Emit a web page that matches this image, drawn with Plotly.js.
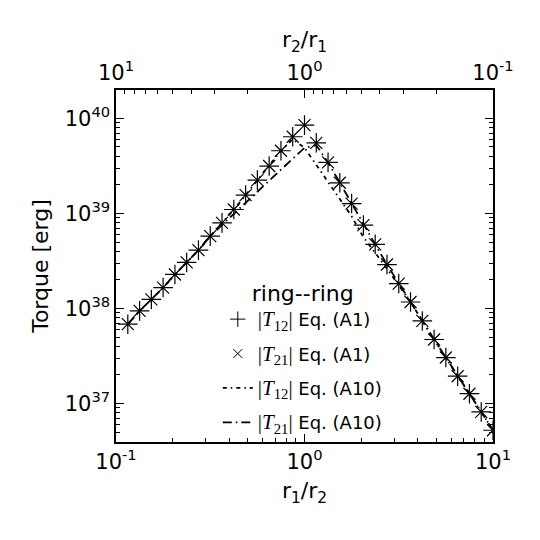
<!DOCTYPE html>
<html>
<head>
<meta charset="utf-8">
<script src="https://cdn.plot.ly/plotly-3.0.1.min.js"></script>
<style>
  html, body { margin: 0; padding: 0; background: #fff; }
  #plot { width: 540px; height: 540px; }
</style>
</head>
<body>
<div id="plot"></div>
<script>
// r1/r2 の格子
const ratio = [
    0.1155, 0.1334, 0.1540, 0.1778, 0.2054, 0.2371, 0.2738, 0.3162,
    0.3652, 0.4217, 0.4870, 0.5623, 0.6494, 0.7499, 0.8660, 1.0,
    1.1548, 1.3335, 1.5399, 1.7783, 2.0535, 2.3714, 2.7384, 3.1623,
    3.6517, 4.2170, 4.8697, 5.6234, 6.4938, 7.4989, 8.6596, 10.0
];

// Eq. (A1): |T12| と |T21| はほぼ一致
const t12A1 = [
    6.84e37, 9.44e37, 1.245e38, 1.66e38, 2.28e38, 3.05e38, 4.11e38, 5.77e38,
    7.96e38, 1.10e39, 1.56e39, 2.24e39, 3.15e39, 4.56e39, 6.40e39, 8.49e39,
    5.53e39, 3.44e39, 2.10e39, 1.27e39, 7.53e38, 4.72e38, 2.90e38, 1.83e38,
    1.17e38, 7.40e37, 4.72e37, 3.05e37, 1.94e37, 1.27e37, 8.17e36, 5.24e36
];
const t21A1 = [
    6.84e37, 9.44e37, 1.245e38, 1.66e38, 2.28e38, 3.05e38, 4.11e38, 5.77e38,
    7.96e38, 1.10e39, 1.56e39, 2.24e39, 3.15e39, 4.56e39, 6.40e39, 8.49e39,
    5.53e39, 3.44e39, 2.10e39, 1.27e39, 7.53e38, 4.72e38, 2.90e38, 1.83e38,
    1.17e38, 7.40e37, 4.72e37, 3.05e37, 1.94e37, 1.27e37, 8.17e36, 5.24e36
];

// Eq. (A10): ピーク付近で片側だけずれる
const t12A10 = [
    6.84e37, 9.44e37, 1.245e38, 1.66e38, 2.28e38, 3.05e38, 4.11e38, 5.77e38,
    7.96e38, 1.10e39, 1.56e39, 2.24e39, 3.15e39, 4.56e39, 6.03e39, 4.90e39,
    3.24e39, 2.14e39, 1.41e39, 9.33e38, 5.62e38, 3.89e38, 2.63e38, 1.76e38,
    1.17e38, 7.40e37, 4.72e37, 3.05e37, 1.94e37, 1.27e37, 8.17e36, 5.24e36
];
const t21A10 = [
    6.84e37, 9.44e37, 1.245e38, 1.66e38, 2.28e38, 3.05e38, 4.11e38, 5.77e38,
    7.59e38, 9.77e38, 1.29e39, 1.69e39, 2.21e39, 2.88e39, 3.77e39, 4.90e39,
    5.20e39, 3.44e39, 2.10e39, 1.27e39, 7.53e38, 4.72e38, 2.90e38, 1.83e38,
    1.17e38, 7.40e37, 4.72e37, 3.05e37, 1.94e37, 1.27e37, 8.17e36, 5.24e36
];

// 目盛り
const xTickVals = [0.1, 1, 10];
const xTickText = ['10<sup>-1</sup>', '10<sup>0</sup>', '10<sup>1</sup>'];
const topTickVals = [10, 1, 0.1];
const topTickText = ['10<sup>1</sup>', '10<sup>0</sup>', '10<sup>-1</sup>'];
const yTickVals = [1e37, 1e38, 1e39, 1e40];
const yTickText = ['10<sup>37</sup>', '10<sup>38</sup>', '10<sup>39</sup>', '10<sup>40</sup>'];

// 凡例ラベル（数式部分はセリフ体）
const mathT = (sub) => `<span style="font-family:'Liberation Serif';font-size:21px">|<i>T</i><sub>${sub}</sub>|</span>`;
const legendNames = [
    `${mathT('12')} Eq. (A1)`,
    `${mathT('21')} Eq. (A1)`,
    `${mathT('12')} Eq. (A10)`,
    `${mathT('21')} Eq. (A10)`
];

const font = 'DejaVu Sans, sans-serif';
const dash12 = '4px,4px,1.5px,4px';
const dash21 = '9px,4px,1.5px,4px';

const traces = [
    // 描画用
    {
        x: ratio, y: t12A1, type: 'scatter', mode: 'markers', showlegend: false,
        marker: { symbol: 'cross-thin', size: 14, color: 'black', line: { color: 'black', width: 1.2 } }
    },
    {
        x: ratio, y: t21A1, type: 'scatter', mode: 'markers', showlegend: false,
        marker: { symbol: 'x-thin', size: 12, color: 'black', line: { color: 'black', width: 1.2 } }
    },
    {
        x: ratio, y: t12A10, type: 'scatter', mode: 'lines', showlegend: false,
        line: { color: 'black', width: 1.8, dash: dash12 }
    },
    {
        x: ratio, y: t21A10, type: 'scatter', mode: 'lines', showlegend: false,
        line: { color: 'black', width: 1.8, dash: dash21 }
    },
    // 凡例用（小さめの記号）
    {
        x: [null], y: [null], type: 'scatter', mode: 'markers',
        name: legendNames[0], legendgroup: 'a',
        marker: { symbol: 'cross-thin', size: 11, color: 'black', line: { color: 'black', width: 1 } }
    },
    {
        x: [null], y: [null], type: 'scatter', mode: 'markers',
        name: legendNames[1], legendgroup: 'b',
        marker: { symbol: 'x-thin', size: 9, color: 'black', line: { color: 'black', width: 1 } }
    },
    {
        x: [null], y: [null], type: 'scatter', mode: 'lines',
        name: legendNames[2], legendgroup: 'c',
        line: { color: 'black', width: 1.8, dash: dash12 }
    },
    {
        x: [null], y: [null], type: 'scatter', mode: 'lines',
        name: legendNames[3], legendgroup: 'd',
        line: { color: 'black', width: 1.8, dash: dash21 }
    },
    // 上側の軸 (r2/r1) を出すためだけのトレース
    {
        x: topTickVals, y: [null, null, null], type: 'scatter', mode: 'none',
        xaxis: 'x2', showlegend: false, hoverinfo: 'skip'
    }
];

const axisCommon = {
    type: 'log',
    showgrid: false,
    zeroline: false,
    showline: true,
    linecolor: 'black',
    linewidth: 1.7,
    ticks: 'inside',
    ticklen: 8,
    tickwidth: 1.2,
    tickcolor: 'black',
    tickmode: 'array',
    tickfont: { family: font, size: 21, color: 'black' },
    minor: { ticks: 'inside', ticklen: 4, tickwidth: 1, tickcolor: 'black', dtick: 'D1', showgrid: false }
};

const layout = {
    width: 540,
    height: 540,
    paper_bgcolor: 'white',
    plot_bgcolor: 'white',
    margin: { l: 116, r: 47, t: 90, b: 98 },
    font: { family: font, color: 'black' },
    showlegend: true,
    legend: {
        x: 0.27, y: 0.482, xanchor: 'left', yanchor: 'top',
        bgcolor: 'rgba(0,0,0,0)',
        borderwidth: 0,
        traceorder: 'grouped',
        tracegroupgap: 8,
        font: { family: font, size: 18, color: 'black' },
        title: { text: 'ring--ring', side: 'top center', font: { family: font, size: 22, color: 'black' } }
    },
    xaxis: Object.assign({}, axisCommon, {
        range: [-1, 1],
        tickvals: xTickVals,
        ticktext: xTickText,
        title: { text: 'r<sub>1</sub>/r<sub>2</sub>', font: { family: font, size: 22, color: 'black' }, standoff: 10 }
    }),
    xaxis2: Object.assign({}, axisCommon, {
        range: [1, -1],
        overlaying: 'x',
        side: 'top',
        anchor: 'y',
        tickvals: topTickVals,
        ticktext: topTickText,
        title: { text: 'r<sub>2</sub>/r<sub>1</sub>', font: { family: font, size: 22, color: 'black' }, standoff: 3 }
    }),
    yaxis: Object.assign({}, axisCommon, {
        range: [36.596, 40.298],
        mirror: 'ticks',
        tickvals: yTickVals,
        ticktext: yTickText,
        title: { text: 'Torque [erg]', font: { family: font, size: 22, color: 'black' }, standoff: 10 }
    })
};

Plotly.newPlot('plot', traces, layout, { staticPlot: true });
</script>
</body>
</html>
